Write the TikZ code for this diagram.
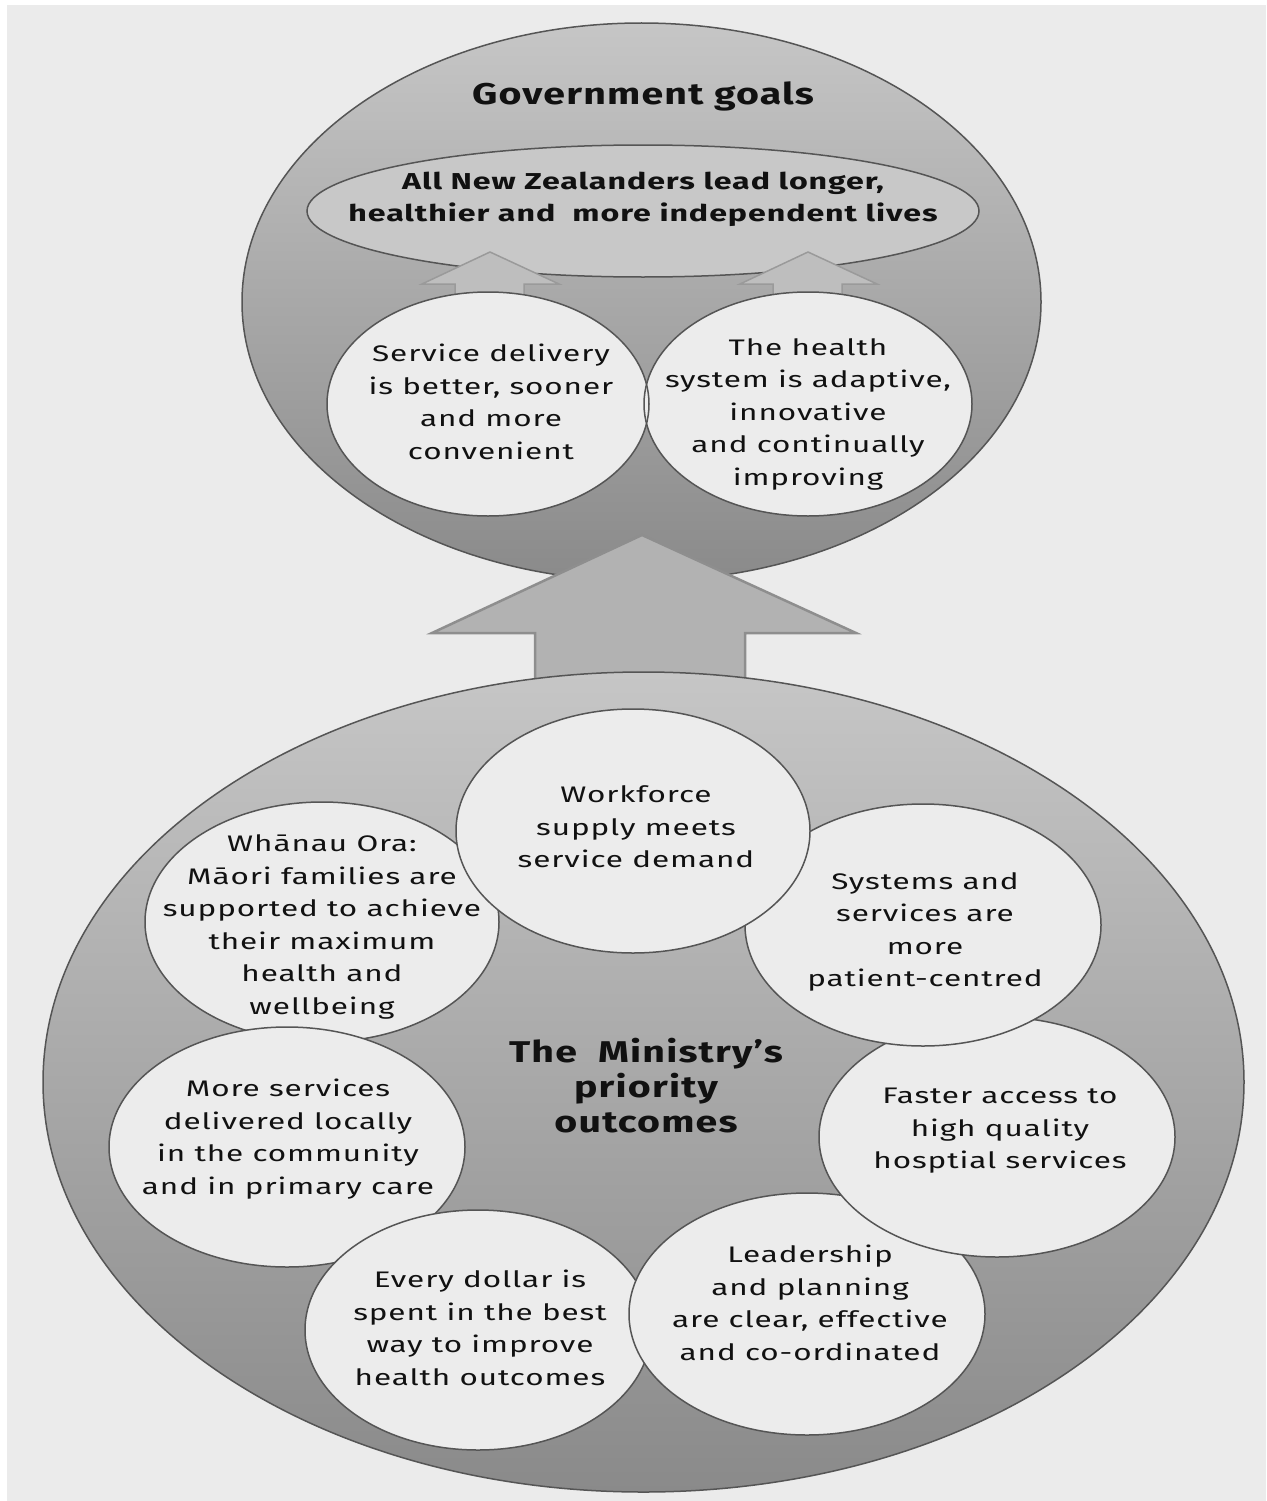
\documentclass[tikz,border=0pt]{standalone}
\usepackage{fontspec}
\setmainfont[FakeStretch=1.4,LetterSpace=4]{Fira Sans}
\newfontfamily\titlefam[FakeStretch=1.31,LetterSpace=4]{Fira Sans}
\usetikzlibrary{shapes.geometric}
\definecolor{bg}{HTML}{EBEBEB}
\definecolor{edge}{HTML}{555555}
\definecolor{ink}{HTML}{111111}
\definecolor{gA}{HTML}{C6C6C6}
\definecolor{gB}{HTML}{8A8A8A}
\definecolor{goalfill}{HTML}{C8C8C8}
\definecolor{cfill}{HTML}{ECECEC}
\definecolor{arrfill}{HTML}{B2B2B2}
\definecolor{arredge}{HTML}{8E8E8E}
\definecolor{sarrfill}{HTML}{BEBEBE}
\definecolor{sarredge}{HTML}{9A9A9A}
\begin{document}
\begin{tikzpicture}[x=1pt,y=-1pt,
  oval/.style 2 args={ellipse,inner sep=0pt,minimum width=#1pt,minimum height=#2pt},
  ring/.style={draw=edge,line width=1.5pt},
  cfillst/.style={fill=cfill},
  bubble/.style 2 args={oval={#1}{#2},ring,fill=cfill},
  txt/.style={align=center,inner sep=0pt,text=ink,font=\fontsize{22.5}{32.5}\selectfont},
  goaltxt/.style={align=center,inner sep=0pt,text=ink,font=\bfseries\fontsize{23}{32}\selectfont},
  titletxt/.style={align=center,inner sep=0pt,text=ink,font=\titlefam\bfseries\fontsize{30}{35}\selectfont},
  smallarrow/.style={fill=sarrfill,draw=sarredge,line width=1.5pt,line join=miter},
  bigarrow/.style={fill=arrfill,draw=arredge,line width=2.5pt,line join=miter}]
\useasboundingbox (0,0) rectangle (1266,1501);
\fill[white] (0,0) rectangle (1266,1501);
\fill[bg] (7,5) rectangle (1266,1501);
% top ellipse
\node[oval={799}{558},ring,top color=gA,bottom color=gB] (govt) at (641.5,302) {};
\node[oval={672}{132},ring,fill=goalfill] (goal) at (643,211) {};
\node[titletxt] (govt-t) at (643,96) {Government goals};
\node[goaltxt] (goal-t) at (643,199) {All New Zealanders lead longer,\\healthier and \ more independent lives};
% small arrows
\draw[smallarrow] (455,300) -- (455,284) -- (422,284) -- (490,252) -- (559,284) -- (524,284) -- (524,300) -- cycle;
\draw[smallarrow] (773,300) -- (773,284) -- (740,284) -- (808,252) -- (877,284) -- (842,284) -- (842,300) -- cycle;
% two top circles
\node[oval={322}{224},cfillst] (sd-bg) at (488,404) {};
\node[oval={328}{224},cfillst] (th-bg) at (808,404) {};
\node[oval={322}{224},ring] (sd) at (488,404) {};
\node[oval={328}{224},ring] (th) at (808,404) {};
\node[txt] (sd-t) at (491,402) {Service delivery\\is better, sooner\\and more\\convenient};
\node[txt] (th-t) at (808,414) {The health\\system is adaptive,\\innovative\\and continually\\improving};
% big arrow
\draw[bigarrow] (535,700) -- (535,633) -- (432,633) -- (642,535) -- (856,633) -- (745,633) -- (745,700) -- cycle;
% bottom ellipse
\node[oval={1201}{820},ring,top color=gA,bottom color=gB] (min) at (643.5,1082) {};
% inner circles, stacked
\node[bubble={354}{240}] (wh) at (322,922) {};
\node[bubble={356}{240}] (ms) at (287,1147) {};
\node[bubble={346}{240}] (ed) at (478,1330) {};
\node[bubble={356}{242}] (ld) at (807,1314) {};
\node[bubble={356}{240}] (fa) at (997,1137) {};
\node[bubble={356}{242}] (sy) at (923,925) {};
\node[bubble={354}{244}] (wf) at (633,831) {};
% texts
\node[txt] (wf-t) at (636,827) {Workforce\\supply meets\\service demand};
\node[txt] (wh-t) at (322,927) {Whānau Ora:\\Māori families are\\supported to achieve\\their maximum\\health and\\wellbeing};
\node[txt] (sy-t) at (925,932) {Systems and\\services are\\more\\patient-centred};
\node[txt] (ms-t) at (288,1139) {More services\\delivered locally\\in the community\\and in primary care};
\node[txt] (fa-t) at (1000,1131) {Faster access to\\high quality\\hosptial services};
\node[txt] (ld-t) at (810,1303) {Leadership\\and planning\\are clear, effective\\and co-ordinated};
\node[txt] (ed-t) at (480,1328) {Every dollar is\\spent in the best\\way to improve\\health outcomes};
\node[titletxt] (min-t) at (646,1086) {The \ Ministry’s\\priority\\outcomes};
\end{tikzpicture}
\end{document}
